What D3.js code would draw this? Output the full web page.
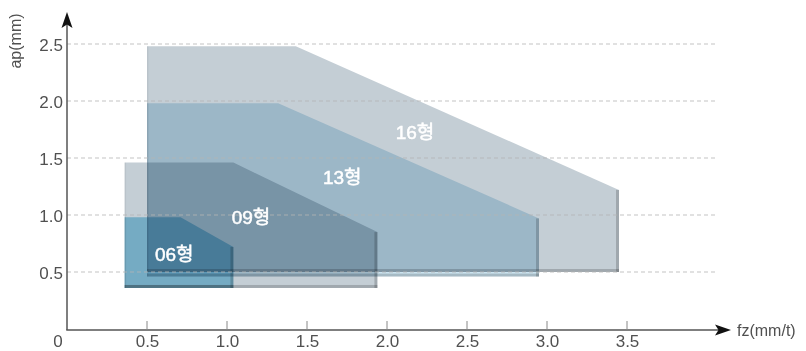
<!DOCTYPE html>
<html><head><meta charset="utf-8">
<script src="https://cdn.jsdelivr.net/npm/d3@7"></script>
<style>
body{margin:0;background:#fff;}
svg{display:block;}
</style></head>
<body><svg id="c" width="806" height="351"></svg>
<script>
// Data
const xTicks = [0.5, 1.0, 1.5, 2.0, 2.5, 3.0, 3.5];
const xTickLabels = ["0.5","1.0","1.5","2.0","2.5","3.0","3.5"];
const yTicks = [0.5, 1.0, 1.5, 2.0, 2.5];
const yTickLabels = ["0.5","1.0","1.5","2.0","2.5"];
const seriesNames = ["16형","13형","09형","06형"];
// each region: [fz, ap] outline points
const region16 = [[0.5,0.5],[0.5,2.48],[1.43,2.48],[3.45,1.22],[3.45,0.5]];
const region13 = [[0.5,0.46],[0.5,1.98],[1.32,1.98],[2.95,0.97],[2.95,0.46]];
const region09 = [[0.36,0.36],[0.36,1.46],[1.04,1.46],[1.94,0.85],[1.94,0.36]];
const region06 = [[0.36,0.36],[0.36,0.98],[0.71,0.98],[1.04,0.72],[1.04,0.36]];
const labelPos = [[2.175,1.72],[1.72,1.33],[1.15,0.98],[0.67,0.65]];
const colors = ["#c4ced5","#cbe3ef","#c4ced5","#98d4ea"];

const svg = d3.select("#c");
const x = d3.scaleLinear().domain([0,4]).range([67,707]);
const y = d3.scaleLinear().domain([0,2.5]).range([329,44]);
const txtFont = "'Liberation Sans', Arial, sans-serif";

const grid = svg.append("g");

const regions = [region16, region13, region09, region06];
const shapes = svg.append("g").style("isolation","isolate");
regions.forEach((r,i)=>{
  const pts = r.map(p=>[x(p[0]),y(p[1])]);
  const g = shapes.append("g").style("mix-blend-mode","multiply");
  g.append("path").attr("d", d3.line()(pts)+"Z").attr("fill", colors[i]);
  const xr = x(r[3][0]), yt = y(r[3][1]), yb = y(r[0][1]);
  g.append("rect").attr("x", xr-3).attr("y", yt).attr("width",3).attr("height", yb-yt)
    .attr("fill","#000").attr("opacity",0.18);
  const xl = x(r[0][0]);
  g.append("rect").attr("x", xl).attr("y", yb-3).attr("width", xr-xl).attr("height",3)
    .attr("fill","#000").attr("opacity",0.18);
  g.append("rect").attr("x", xl).attr("y", y(r[1][1])).attr("width",1.5).attr("height", yb-y(r[1][1]))
    .attr("fill","#000").attr("opacity",0.05);
});

grid.raise();
yTicks.forEach(v=>{
  grid.append("line").attr("x1",67).attr("x2",715).attr("y1",y(v)).attr("y2",y(v))
    .attr("stroke","#b4b4b4").attr("stroke-width",1).attr("stroke-dasharray","4,3").attr("opacity",0.8);
});

seriesNames.forEach((n,i)=>{
  svg.append("text").attr("x", x(labelPos[i][0])).attr("y", y(labelPos[i][1]))
    .attr("text-anchor","middle").attr("dominant-baseline","central")
    .attr("fill","#fff").attr("stroke","#fff").attr("stroke-width",0.5)
    .attr("font-family","'Liberation Sans', 'Noto Sans CJK KR', sans-serif")
    .attr("font-size",19).text(n);
});

const axisColor = "#555";
svg.append("line").attr("x1",67).attr("x2",67).attr("y1",330).attr("y2",22).attr("stroke",axisColor).attr("stroke-width",1.5);
svg.append("line").attr("x1",66.25).attr("x2",722).attr("y1",330).attr("y2",330).attr("stroke",axisColor).attr("stroke-width",1.5);
svg.append("path").attr("d","M67,12 L72.5,28 L67,24.5 L61.5,28 Z").attr("fill","#111");
svg.append("path").attr("d","M731,330 L715,335.5 L718.5,330 L715,324.5 Z").attr("fill","#111");

const xAxis = d3.axisBottom(x).tickValues(xTicks).tickSize(0).tickFormat((d,i)=>xTickLabels[i]);
const xa = svg.append("g").attr("transform","translate(0,330)").call(xAxis);
xa.select(".domain").remove();
xa.selectAll("text").attr("dy",0).attr("y",17).attr("font-size",17)
  .attr("font-family",txtFont).attr("fill","#505050");
xTicks.forEach(v=>{
  svg.append("line").attr("x1",x(v)).attr("x2",x(v)).attr("y1",321).attr("y2",330).attr("stroke","#888").attr("stroke-width",1);
});
svg.append("text").attr("x",58).attr("y",347).attr("text-anchor","middle").attr("font-size",17)
  .attr("font-family",txtFont).attr("fill","#505050").text("0");

const yAxis = d3.axisLeft(y).tickValues(yTicks).tickSize(0).tickFormat((d,i)=>yTickLabels[i]);
const ya = svg.append("g").attr("transform","translate(63,0)").call(yAxis);
ya.select(".domain").remove();
ya.selectAll("text").attr("x",0).attr("dy","0.36em").attr("font-size",17)
  .attr("font-family",txtFont).attr("fill","#505050");

svg.append("text").attr("transform","translate(21,41) rotate(-90)").attr("text-anchor","middle")
  .attr("font-size",16).attr("font-family",txtFont).attr("fill","#505050").text("ap(mm)");
svg.append("text").attr("x",737).attr("y",336).attr("font-size",16)
  .attr("font-family",txtFont).attr("fill","#505050").text("fz(mm/t)");
</script></body></html>
